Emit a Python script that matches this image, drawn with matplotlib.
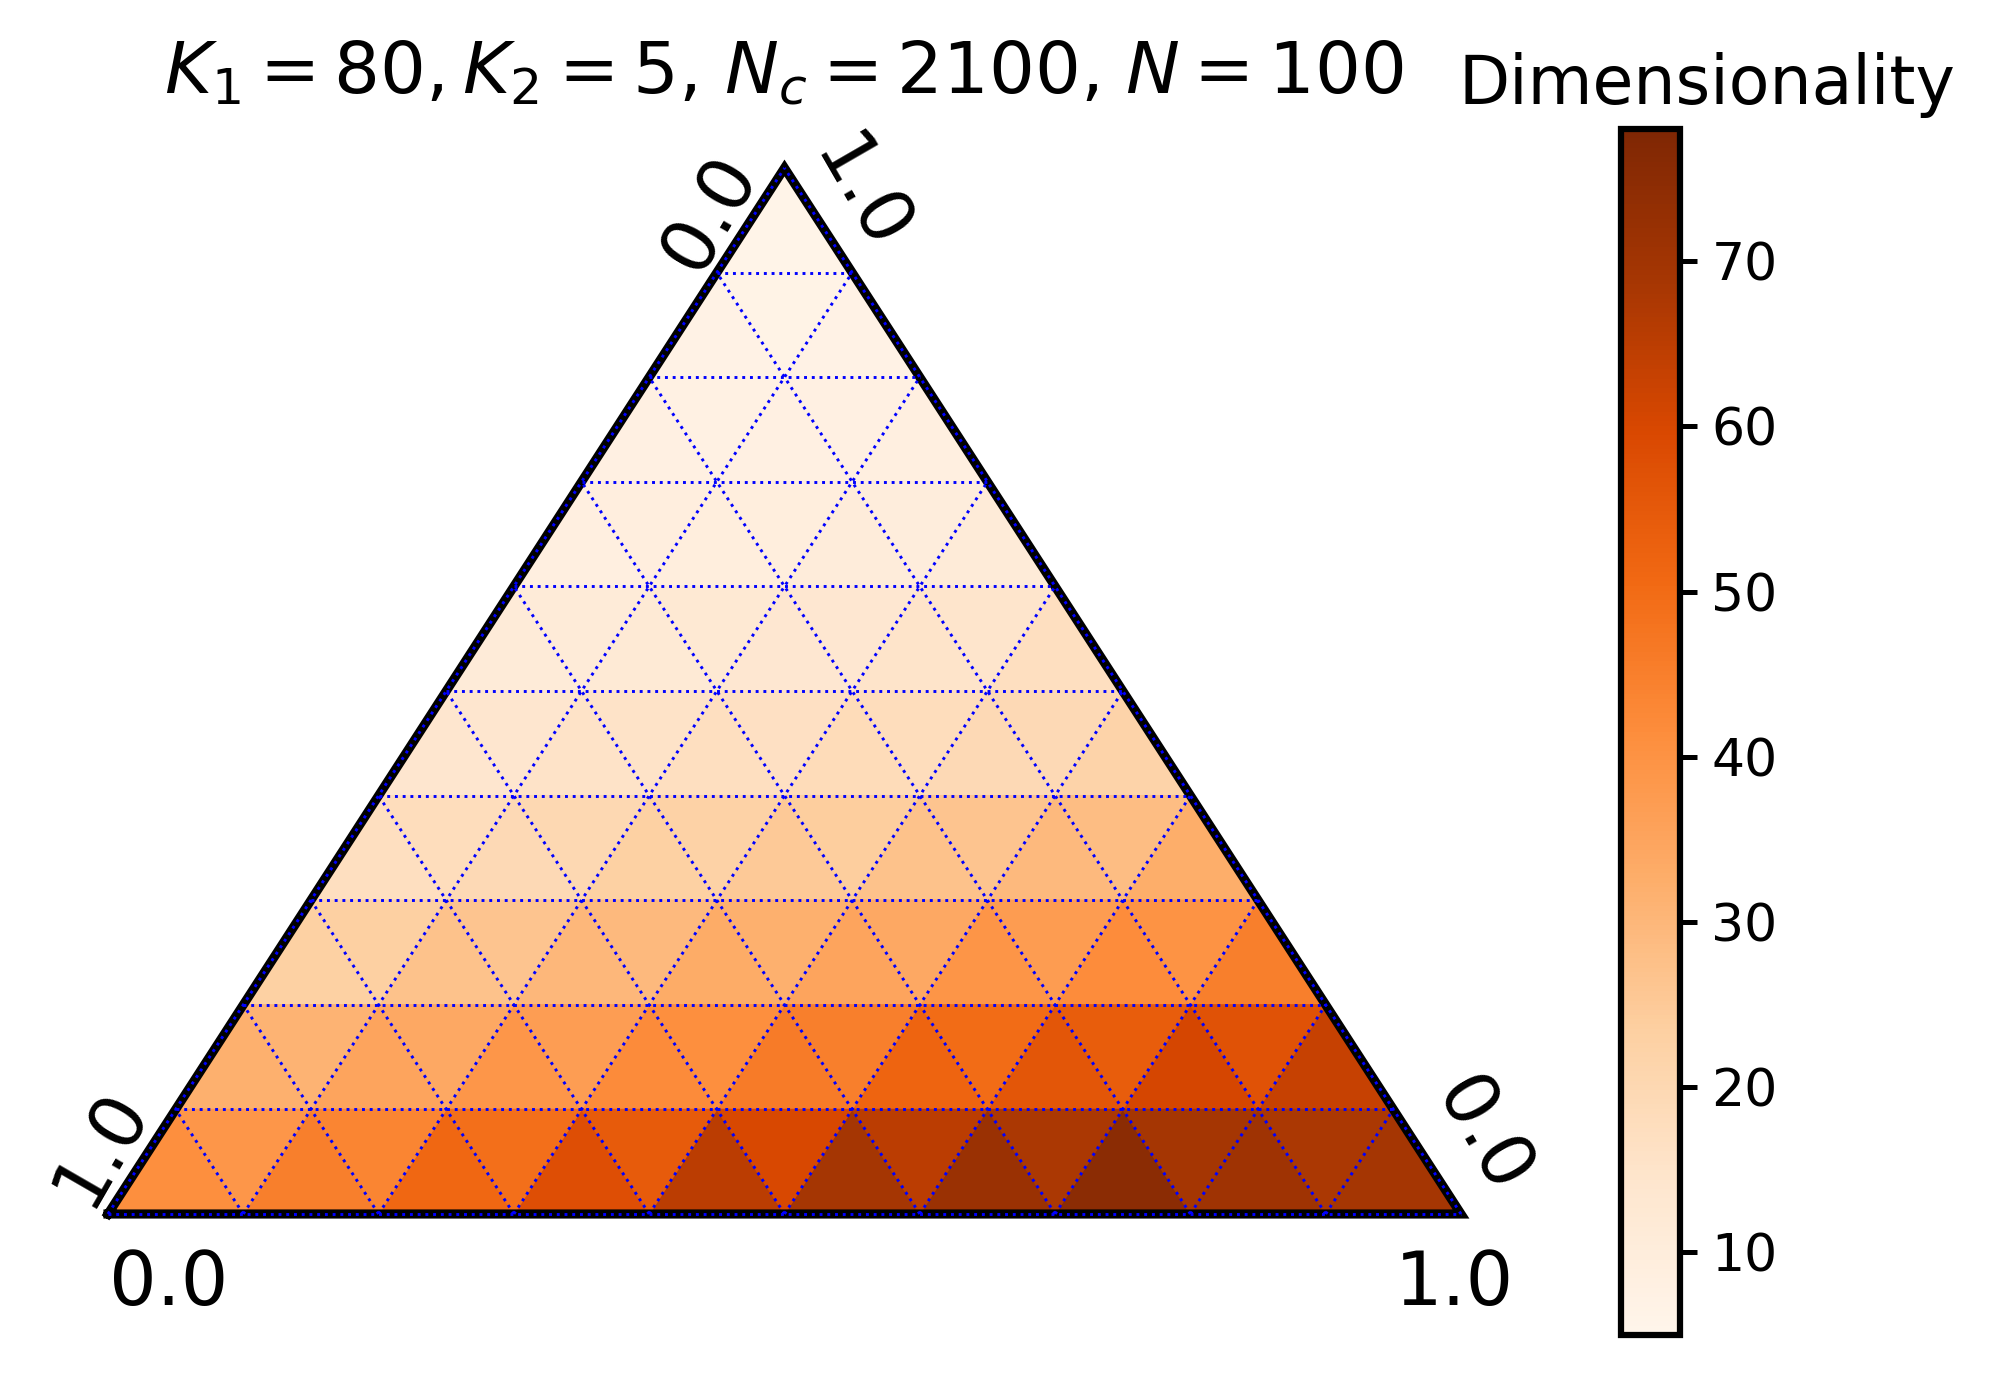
import numpy as np
import matplotlib
matplotlib.use("Agg")
import matplotlib.pyplot as plt
from matplotlib.collections import PolyCollection
from matplotlib.colors import Normalize

# Dimensionality per small triangle, read row by row (row 0 = bottom), left to right
up_rows = [
    [41, 45, 51, 58, 65, 69, 71.5, 75, 70.5, 69],
    [32, 35, 39, 42, 46, 52, 56, 60.5, 63],
    [23, 27, 30, 33, 35, 39.5, 41.5, 45],
    [17, 19.5, 23, 25, 27, 29.5, 32.5],
    [14, 15.5, 17, 18.5, 19.5, 22],
    [11, 12, 13.5, 15, 17],
    [8.5, 9.5, 10.5, 11],
    [8, 8, 8.5],
    [7, 7],
    [6],
]
down_rows = [
    [39, 43.5, 49, 54.5, 60, 65, 68, 69, 68],
    [31, 34, 37, 41, 45, 50, 54, 57],
    [23.5, 26.5, 29.5, 32, 34, 37.5, 40],
    [18, 20, 22.5, 24, 26.5, 28.5],
    [14, 15.5, 16.5, 18, 19.5],
    [11, 12.5, 13.5, 14.5],
    [9, 9.5, 10],
    [7.8, 8],
    [6.7],
]
vmin, vmax = 5, 78
corner_labels = ["0.0", "1.0"]
title = r"$K_1 = 80, K_2 = 5$, $N_c = 2100$, $N = 100$"
cbar_label = "Dimensionality"

scale = 10
h = np.sqrt(3) / 2

fig = plt.figure(figsize=(1997 / 300, 1377 / 300), dpi=300)
ax = fig.add_axes([108 / 1997, 1 - 1214 / 1377, 1353 / 1997, 1046 / 1377])
ax.set_xlim(0, scale)
ax.set_ylim(0, scale * h)
ax.axis("off")

# heatmap triangles
polys, vals = [], []
for r, row in enumerate(up_rows):
    for i, v in enumerate(row):
        x0 = r * 0.5 + i
        polys.append([(x0, r * h), (x0 + 1, r * h), (x0 + 0.5, (r + 1) * h)])
        vals.append(v)
for r, row in enumerate(down_rows):
    for i, v in enumerate(row):
        x0 = r * 0.5 + i + 0.5
        polys.append([(x0, (r + 1) * h), (x0 + 1, (r + 1) * h), (x0 + 0.5, r * h)])
        vals.append(v)

norm = Normalize(vmin=vmin, vmax=vmax)
pc = PolyCollection(polys, array=np.array(vals), cmap="Oranges", norm=norm,
                    edgecolors="face", linewidths=0.3, zorder=1)
ax.add_collection(pc)

# boundary
ax.plot([0, scale, scale / 2, 0], [0, 0, scale * h, 0], color="black",
        linewidth=2.2, zorder=2, solid_joinstyle="miter", clip_on=False)

# gridlines
gl = dict(color="blue", linestyle=":", linewidth=0.7, zorder=3, clip_on=False)
for k in range(scale + 1):
    ax.plot([k / 2, scale - k / 2], [k * h, k * h], **gl)
    ax.plot([k, k + 0.5 * (scale - k)], [0, (scale - k) * h], **gl)
    ax.plot([k, k / 2], [0, k * h], **gl)

# corner tick labels
fs = 18
ax.text(0.45, -0.28, corner_labels[0], fontsize=fs, ha="center", va="top")
ax.text(scale - 0.05, -0.28, corner_labels[1], fontsize=fs, ha="center", va="top")
ax.text(-0.05, 0.55, corner_labels[1], fontsize=fs, rotation=60, ha="center", va="center")
ax.text(scale / 2 - 0.55, scale * h - 0.38, corner_labels[0], fontsize=fs, rotation=60,
        ha="center", va="center")
ax.text(scale / 2 + 0.55, scale * h - 0.22, corner_labels[1], fontsize=fs, rotation=-60,
        ha="center", va="center")
ax.text(scale + 0.15, 0.65, corner_labels[0], fontsize=fs, rotation=-60,
        ha="center", va="center")

fig.text(784 / 1997, 1 - 73 / 1377, title, fontsize=17.3, ha="center", va="center")

# colorbar
cax = fig.add_axes([1621 / 1997, 1 - 1335 / 1377, 59 / 1997, 1206 / 1377])
cb = fig.colorbar(pc, cax=cax)
cb.set_ticks([10, 20, 30, 40, 50, 60, 70])
cb.ax.tick_params(labelsize=12.5, length=4, width=1.2)
cb.outline.set_linewidth(1.5)
fig.text(1707 / 1997, 1 - 85 / 1377, cbar_label, fontsize=16, ha="center", va="center")

fig.savefig("out.png", dpi=300)
